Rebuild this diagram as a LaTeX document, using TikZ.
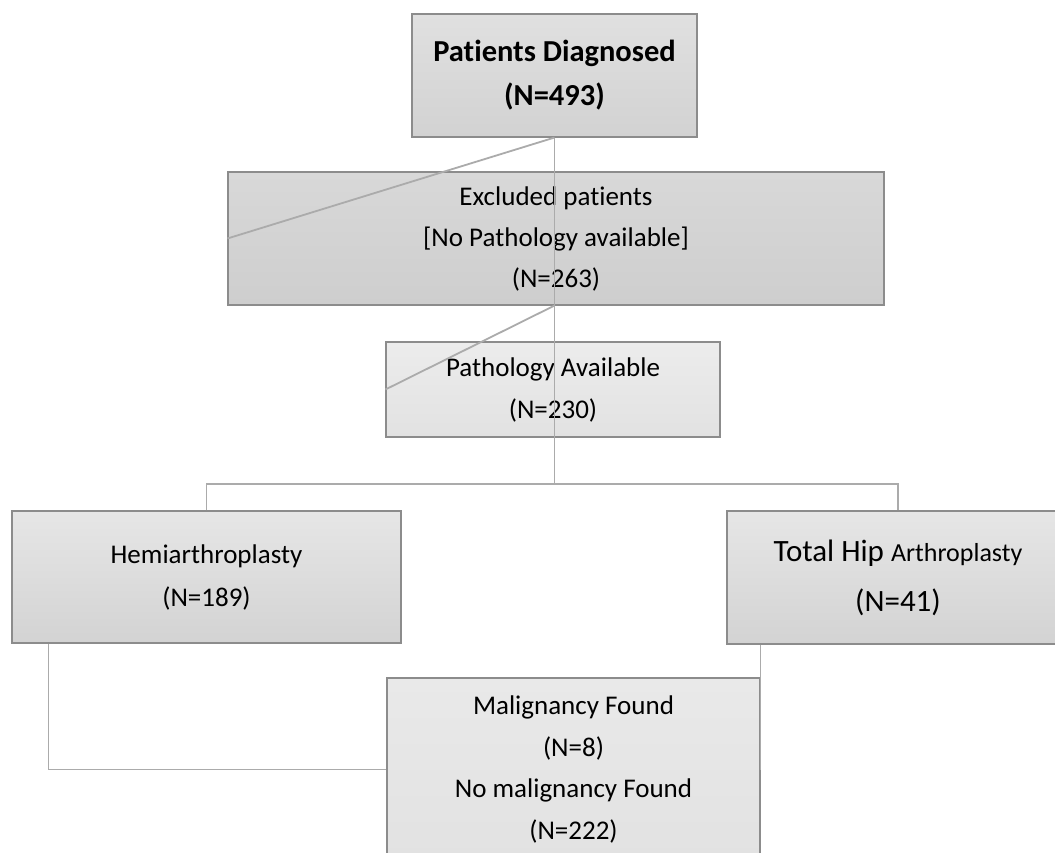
\documentclass[tikz,border=0pt]{standalone}
\usepackage{fontspec}
\setmainfont{Carlito}[Ligatures=NoCommon]
\definecolor{boxline}{HTML}{8C8C8C}
\definecolor{conline}{HTML}{ABABAB}
\begin{document}
\begin{tikzpicture}[x=1pt,y=-1pt,
  box/.style={draw=boxline, line width=1.1pt, align=center, inner sep=0pt, text=black},
  conn/.style={draw=conline, line width=1.8pt}]
\useasboundingbox (0,0) rectangle (1055,853);
\clip (0,0) rectangle (1055,853);
% boxes
\node[box, minimum width=285pt, minimum height=123pt, top color={rgb,255:red,224;green,224;blue,224}, bottom color={rgb,255:red,210;green,210;blue,210},
      font=\fontsize{30.5}{44}\selectfont\bfseries] (top) at (554.5,75.5) {Patients Diagnosed\\(N=493)};
\node[box, minimum width=656pt, minimum height=133pt, top color={rgb,255:red,216;green,216;blue,216}, bottom color={rgb,255:red,206;green,206;blue,206},
      font=\fontsize{27}{41}\selectfont] (excl) at (556,238.5) {Excluded patients\\{}[No Pathology available]\\(N=263)};
\node[box, minimum width=334pt, minimum height=95pt, top color={rgb,255:red,236;green,236;blue,236}, bottom color={rgb,255:red,226;green,226;blue,226},
      font=\fontsize{27}{42}\selectfont] (path) at (553,389.5) {Pathology Available\\(N=230)};
\node[box, minimum width=389pt, minimum height=132pt, top color={rgb,255:red,230;green,230;blue,230}, bottom color={rgb,255:red,211;green,211;blue,211},
      font=\fontsize{27}{43}\selectfont] (hemi) at (206.5,577) {Hemiarthroplasty\\(N=189)};
\node[box, minimum width=342pt, minimum height=133pt, top color={rgb,255:red,230;green,230;blue,230}, bottom color={rgb,255:red,211;green,211;blue,211},
      font=\fontsize{31}{50}\selectfont] (tha) at (898,577.5) {Total Hip {\fontsize{26}{50}\selectfont Arthroplasty}\\(N=41)};
\node[box, minimum width=373pt, minimum height=183pt, top color={rgb,255:red,233;green,233;blue,233}, bottom color={rgb,255:red,226;green,226;blue,226},
      font=\fontsize{27}{41.5}\selectfont] (bot) at (573.5,769.5) {Malignancy Found\\(N=8)\\No malignancy Found\\(N=222)};
% connectors
\coordinate (j1) at (554.5,484);
\coordinate (h1) at ([xshift=37pt]hemi.south west);
\coordinate (t1) at ([xshift=34pt]tha.south west);
\draw[conn] (top.south) -- (j1);
\draw[conn] (top.south) -- (excl.west);
\draw[conn] (excl.south -| top.south) -- (path.west);
\draw[conn] (hemi.north) |- (j1) -| (tha.north);
\draw[conn] (h1) |- (bot.west);
\draw[conn] (t1) -- (t1 |- bot.east);
\end{tikzpicture}
\end{document}
